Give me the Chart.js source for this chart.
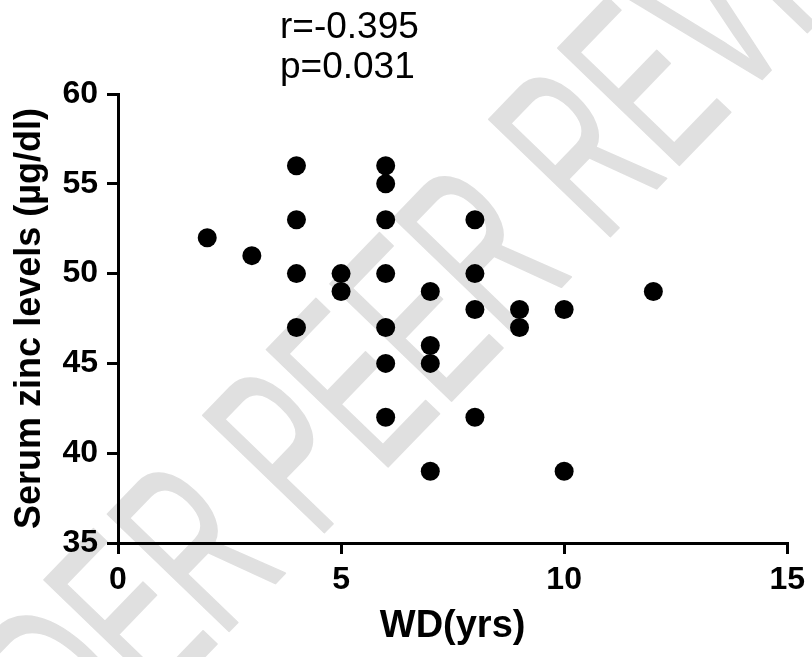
<!DOCTYPE html>
<html>
<head>
<meta charset="utf-8">
<script src="https://cdn.jsdelivr.net/npm/chart.js@4/dist/chart.umd.min.js"></script>
<style>
  html, body { margin: 0; padding: 0; background: #fff; }
  #wrap { width: 812px; height: 657px; position: relative; }
</style>
</head>
<body>
<div id="wrap"><canvas id="c" width="812" height="657"></canvas></div>
<script>
// ---- data ----
const wdYears = [2, 3, 4, 4, 4, 4, 5, 5, 6, 6, 6, 6, 6, 6, 6, 7, 7, 7, 7, 8, 8, 8, 8, 9, 9, 10, 10, 12];
const zincLevels = [52, 51, 56, 53, 50, 47, 50, 49, 56, 55, 53, 50, 47, 45, 42, 49, 46, 45, 39, 53, 50, 48, 42, 48, 47, 48, 39, 49];
const xTickValues = [0, 5, 10, 15];
const yTickValues = [35, 40, 45, 50, 55, 60];
const statLines = ["r=-0.395", "p=0.031"];
const xTitle = "WD(yrs)";
const yTitle = "Serum zinc levels (\u00b5g/dl)";
const watermarkText = "UNDER PEER REVIEW";

const points = wdYears.map((x, i) => ({ x: x, y: zincLevels[i] }));
const FONT = "Arial, 'Liberation Sans', Helvetica, sans-serif";

const watermarkPlugin = {
  id: 'watermark',
  beforeDraw(chart) {
    const ctx = chart.ctx;
    ctx.save();
    ctx.fillStyle = '#e0e0e0';
    ctx.strokeStyle = '#e0e0e0';
    ctx.lineWidth = 2;
    ctx.lineJoin = 'round';
    ctx.lineCap = 'round';
    const size = 245;
    ctx.font = size + "px " + FONT;
    ctx.translate(285, 447);
    ctx.rotate(-46 * Math.PI / 180);
    ctx.scale(0.56, 1);
    const pre = ctx.measureText("UNDER ").width;
    const pw = ctx.measureText("P").width;
    ctx.textAlign = 'left';
    ctx.textBaseline = 'alphabetic';
    const x0 = -(pre + pw / 2);
    const y0 = size * 0.716 / 2;
    ctx.fillText(watermarkText, x0, y0);
    ctx.strokeText(watermarkText, x0, y0);
    ctx.restore();
  }
};

const statsPlugin = {
  id: 'stats',
  afterDraw(chart) {
    const ctx = chart.ctx;
    ctx.save();
    ctx.fillStyle = '#000';
    ctx.font = "37px " + FONT;
    ctx.textAlign = 'left';
    ctx.textBaseline = 'alphabetic';
    ctx.fillText(statLines[0], 280, 38);
    ctx.fillText(statLines[1], 280, 78);
    ctx.restore();
  }
};

new Chart(document.getElementById('c'), {
  type: 'scatter',
  data: {
    datasets: [{
      data: points,
      backgroundColor: '#000',
      borderColor: '#000',
      borderWidth: 0,
      pointRadius: 9.5,
      pointHoverRadius: 9.5,
      clip: false
    }]
  },
  options: {
    responsive: false,
    animation: false,
    events: [],
    layout: { padding: { left: 4, right: 22, top: 94, bottom: 4 } },
    plugins: { legend: { display: false }, tooltip: { enabled: false } },
    scales: {
      x: {
        type: 'linear',
        min: 0, max: 15,
        afterBuildTicks(scale) { scale.ticks = xTickValues.map(v => ({ value: v })); },
        afterFit(scale) { scale.height = 657 - 4 - 543; },
        grid: { display: true, drawOnChartArea: false, drawTicks: true, tickLength: 11, lineWidth: 3, color: '#000' },
        border: { display: true, width: 3, color: '#000' },
        ticks: { color: '#000', padding: 7, font: { family: FONT, size: 32, weight: 'bold' }, maxRotation: 0 },
        title: { display: true, text: xTitle, color: '#000', font: { family: FONT, size: 38, weight: 'bold' } }
      },
      y: {
        type: 'linear',
        min: 35, max: 60,
        afterBuildTicks(scale) { scale.ticks = yTickValues.map(v => ({ value: v })); },
        afterFit(scale) { scale.width = 118 - 4; },
        grid: { display: true, drawOnChartArea: false, drawTicks: true, tickLength: 11, lineWidth: 3, color: '#000' },
        border: { display: true, width: 3, color: '#000' },
        ticks: { color: '#000', padding: 9, font: { family: FONT, size: 32, weight: 'bold' } },
        title: { display: true, text: yTitle, color: '#000', font: { family: FONT, size: 36, weight: 'bold' } }
      }
    }
  },
  plugins: [watermarkPlugin, statsPlugin]
});
</script>
</body>
</html>
